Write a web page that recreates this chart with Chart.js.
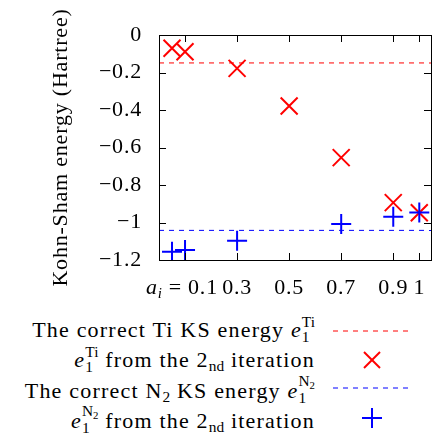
<!DOCTYPE html>
<html lang="en">
<head>
<meta charset="UTF-8">
<title>Kohn-Sham energy</title>
<script src="https://cdn.jsdelivr.net/npm/chart.js@4"></script>
<style>
  html, body { margin: 0; padding: 0; background: #fff; }
  body { width: 445px; height: 434px; position: relative; overflow: hidden;
         font-family: "Liberation Serif", serif; color: #000; }
  #box { position: absolute; left: 0; top: 0; width: 445px; height: 300px; }
  #legend { position: absolute; left: 0; top: 314px; width: 445px; font-size: 22px; letter-spacing: 1.2px; }
  .row { position: relative; height: 29.5px; line-height: 29.5px; white-space: nowrap; }
  .txt { position: absolute; right: 130px; top: 0; }
  .ss { display: inline-block; vertical-align: -0.36em; font-size: 0.7em; line-height: 1; text-align: left; letter-spacing: 0; }
  .ss > span { display: block; }
  .sm { font-size: 0.7em; vertical-align: -0.25em; line-height: 1; letter-spacing: 0; }
  .row svg { position: absolute; left: 330px; top: 0; }
</style>
</head>
<body>
<div id="box"><canvas id="chart"></canvas></div>

<!-- legend -->
<div id="legend">
  <div class="row"><span class="txt">The correct Ti KS energy <i>e</i><span class="ss"><span>Ti</span><span>1</span></span></span>
    <svg width="80" height="30"><line x1="3" y1="17" x2="78" y2="17" stroke="#ff0000" stroke-width="1" stroke-dasharray="5 5"/></svg></div>
  <div class="row"><span class="txt"><i>e</i><span class="ss"><span>Ti</span><span>1</span></span> from the 2<span class="sm">nd</span> iteration</span>
    <svg width="80" height="30"><g stroke="#ff0000" stroke-width="2"><line x1="34" y1="8" x2="50" y2="24"/><line x1="34" y1="24" x2="50" y2="8"/></g></svg></div>
  <div class="row"><span class="txt">The correct N<span class="sm">2</span> KS energy <i>e</i><span class="ss"><span>N<span class="sm">2</span></span><span>1</span></span></span>
    <svg width="80" height="30"><line x1="3" y1="15" x2="78" y2="15" stroke="#0000ff" stroke-width="1" stroke-dasharray="5 5"/></svg></div>
  <div class="row"><span class="txt"><i>e</i><span class="ss"><span>N<span class="sm">2</span></span><span>1</span></span> from the 2<span class="sm">nd</span> iteration</span>
    <svg width="80" height="30"><g stroke="#0000ff" stroke-width="2"><line x1="32" y1="15" x2="52" y2="15"/><line x1="42" y1="5" x2="42" y2="25"/></g></svg></div>
</div>

<script>
// mixing parameter a_i
var tiA = [0.05, 0.1, 0.3, 0.5, 0.7, 0.9, 1.0];
var tiE = [-0.071, -0.089, -0.178, -0.379, -0.654, -0.894, -0.948];

var n2A = [0.05, 0.1, 0.3, 0.7, 0.9, 1.0];
var n2E = [-1.156, -1.147, -1.097, -1.008, -0.969, -0.946];

// reference (correct) KS energies
var tiRef = -0.149;
var n2Ref = -1.042;

var xTicks = [0.1, 0.3, 0.5, 0.7, 0.9, 1];
var xMin = 0, xMax = 1.045;
var yMin = -1.2, yMax = 0, yStep = 0.2;

var RED = '#ff0000', BLUE = '#0000ff';
var FONT = '"Liberation Serif", serif';
var FS = 22;

function pts(xs, ys) {
    return xs.map(function (x, i) { return { x: x, y: ys[i] }; });
}

// frame, inward ticks and the "a_i = 0.1" label
var framePlugin = {
    id: 'frame',
    beforeDraw: function (chart) {
        chart.ctx.letterSpacing = '0.8px';
    },
    afterDraw: function (chart) {
        var ctx = chart.ctx, a = chart.chartArea;
        var xs = chart.scales.x, ys = chart.scales.y;
        ctx.save();
        ctx.strokeStyle = '#000';
        ctx.lineWidth = 1;
        ctx.beginPath();
        xs.ticks.forEach(function (t) {
            var px = Math.round(xs.getPixelForValue(t.value)) + 0.5;
            ctx.moveTo(px, a.bottom); ctx.lineTo(px, a.bottom - 7);
            ctx.moveTo(px, a.top); ctx.lineTo(px, a.top + 7);
        });
        ys.ticks.forEach(function (t) {
            var py = Math.round(ys.getPixelForValue(t.value)) + 0.5;
            ctx.moveTo(a.left, py); ctx.lineTo(a.left + 7, py);
            ctx.moveTo(a.right, py); ctx.lineTo(a.right - 7, py);
        });
        ctx.stroke();
        ctx.strokeRect(Math.round(a.left) + 0.5, Math.round(a.top) + 0.5,
                       Math.round(a.right - a.left), Math.round(a.bottom - a.top));

        // first tick label with the a_i prefix
        var px = xs.getPixelForValue(xTicks[0]);
        var base = a.bottom + 34;
        ctx.fillStyle = '#000';
        ctx.textBaseline = 'alphabetic';
        ctx.textAlign = 'left';
        ctx.font = FS + 'px ' + FONT;
        var num = String(xTicks[0]);
        var nx = px + 3;
        ctx.fillText(num, nx, base);
        ctx.textAlign = 'right';
        ctx.fillText('=', nx - 6, base);
        var eqw = ctx.measureText('=').width;
        ctx.font = 'italic 15px ' + FONT;
        ctx.fillText('i', nx - 6 - eqw - 6, base + 4);
        var iw = ctx.measureText('i').width;
        ctx.font = 'italic ' + FS + 'px ' + FONT;
        ctx.fillText('a', nx - 6 - eqw - 6 - iw, base);
        ctx.restore();
    }
};

new Chart(document.getElementById('chart'), {
    type: 'scatter',
    data: {
        datasets: [
            {
                type: 'line', data: pts([xMin, xMax], [tiRef, tiRef]),
                borderColor: RED, borderWidth: 1, borderDash: [5, 5],
                pointRadius: 0, fill: false, order: 3
            },
            {
                data: pts(tiA, tiE), pointStyle: 'crossRot',
                pointRadius: 12, pointHoverRadius: 12,
                pointBorderColor: RED, pointBorderWidth: 2, borderColor: RED, order: 1
            },
            {
                type: 'line', data: pts([xMin, xMax], [n2Ref, n2Ref]),
                borderColor: BLUE, borderWidth: 1, borderDash: [5, 5],
                pointRadius: 0, fill: false, order: 2
            },
            {
                data: pts(n2A, n2E), pointStyle: 'cross',
                pointRadius: 10, pointHoverRadius: 10,
                pointBorderColor: BLUE, pointBorderWidth: 2, borderColor: BLUE, order: 0
            }
        ]
    },
    options: {
        responsive: true,
        maintainAspectRatio: false,
        animation: false,
        layout: { padding: { top: 35, right: 3, left: 0, bottom: 0 } },
        plugins: { legend: { display: false }, tooltip: { enabled: false } },
        scales: {
            x: {
                type: 'linear', min: xMin, max: xMax,
                afterBuildTicks: function (s) {
                    s.ticks = xTicks.map(function (v) { return { value: v }; });
                },
                afterFit: function (s) { s.height = 40; },
                grid: { display: false, drawTicks: false },
                border: { display: false },
                ticks: {
                    color: '#000', padding: 15, maxRotation: 0, autoSkip: false,
                    font: { family: FONT, size: FS },
                    callback: function (v) { return v === xTicks[0] ? '' : String(v); }
                }
            },
            y: {
                min: yMin, max: yMax,
                afterFit: function (s) { s.width = 159; },
                grid: { display: false, drawTicks: false },
                border: { display: false },
                ticks: {
                    stepSize: yStep, color: '#000', padding: 17,
                    font: { family: FONT, size: FS },
                    callback: function (v) {
                        var r = +Math.abs(v).toFixed(1);
                        return r === 0 ? '0' : '\u2212' + r;
                    }
                },
                title: {
                    display: true, text: 'Kohn-Sham energy (Hartree)', color: '#000',
                    font: { family: FONT, size: FS },
                    padding: { top: 48, bottom: 0 }
                }
            }
        }
    },
    plugins: [framePlugin]
});
</script>
</body>
</html>
